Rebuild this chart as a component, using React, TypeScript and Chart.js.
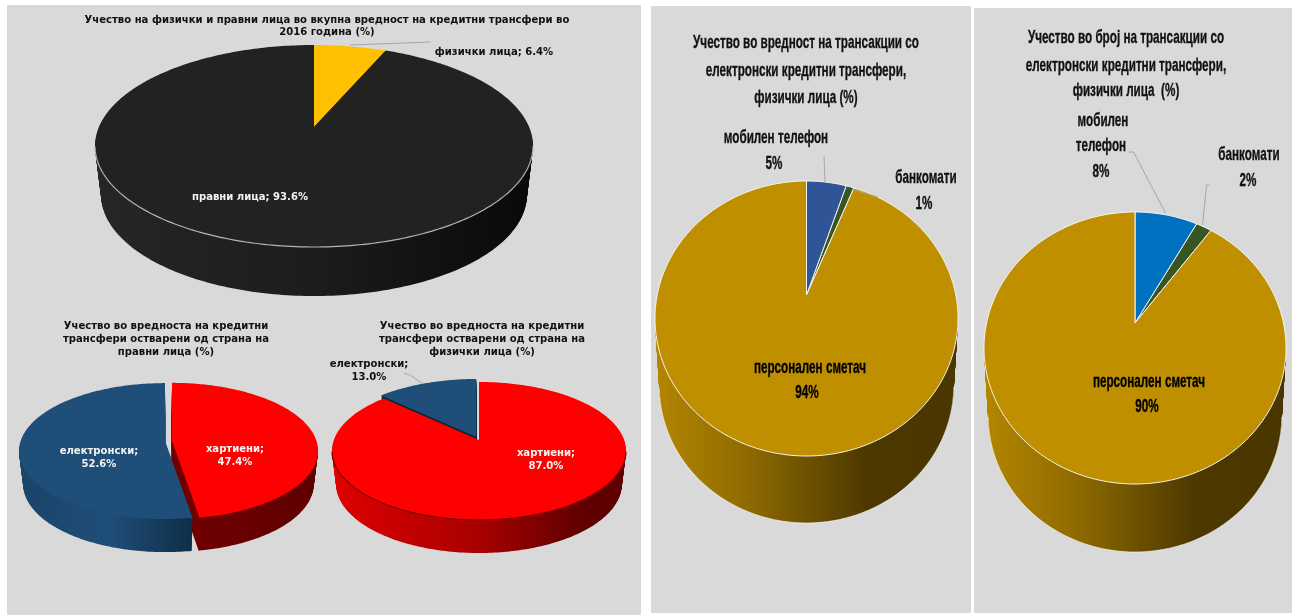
import React, { useEffect, useRef } from "react";
import { Chart, registerables } from "chart.js";

Chart.register(...registerables);

// Figures per chart
const partyCategories = ["физички лица", "правни лица"];
const partyValues = [6.4, 93.6];
const mediumCategories = ["хартиени", "електронски"];
const legalMediumValues = [47.4, 52.6];
const naturalMediumValues = [87.0, 13.0];
const channelCategories = ["мобилен телефон", "банкомати", "персонален сметач"];
const channelValueShares = [5, 1, 94];
const channelCountShares = [8, 2, 90];

// Chart headings
const partyTitle = [
  "Учество на физички и правни лица во вкупна вредност на кредитни трансфери во",
  "2016 година (%)",
];
const legalTitle = ["Учество во вредноста на кредитни", "трансфери остварени од страна на", "правни лица (%)"];
const naturalTitle = ["Учество во вредноста на кредитни", "трансфери остварени од страна на", "физички лица (%)"];
const valueTitle = ["Учество во вредност на трансакции со", "електронски кредитни трансфери,", "физички лица (%)"];
const countTitle = ["Учество во број на трансакции со", "електронски кредитни трансфери,", "физички лица  (%)"];

type Stops = [number, string][];
type PieSpec = {
  values: number[];
  colors: string[];
  walls: Stops[];
  cx: number;
  cy: number;
  rx: number;
  ry: number;
  tilt: number; // perspective shift of the hub towards the back edge
  depth: number;
  pull: number[]; // exploded distance per slice
  sliceStroke?: string;
  rimStroke?: string;
  wallEdge?: string;
  leaders: number[][][];
};

const GOLD_WALL: Stops = [[0, "#b48600"], [0.3, "#8f6b00"], [0.7, "#4d3800"], [1, "#4a3600"]];
const WALL_TAPER = 0.028; // the far end of the cylinder is a little narrower

const padOf = (s: PieSpec) => Math.max(12, Math.ceil(s.ry + s.depth - s.rx + 8));

const pies: PieSpec[] = [
  {
    values: partyValues,
    colors: ["#FFC000", "#222222"],
    walls: [
      [[0, "#222"], [1, "#222"]],
      [[0, "#262626"], [0.5, "#1c1c1c"], [1, "#090909"]],
    ],
    cx: 314, cy: 146, rx: 219, ry: 101, tilt: -0.188, depth: 49,
    pull: [0, 0],
    rimStroke: "#b4b4b4",
    leaders: [[[350, 45], [431, 42]]],
  },
  {
    values: legalMediumValues,
    colors: ["#FF0000", "#1F4E79"],
    walls: [
      [[0, "#7a0000"], [0.7, "#6c0000"], [1, "#5e0000"]],
      [[0, "#1a4468"], [0.3, "#1f4e79"], [0.6, "#0e2c44"], [1, "#0e2c44"]],
    ],
    cx: 168, cy: 451, rx: 146, ry: 68, tilt: -0.15, depth: 33,
    pull: [4, 3],
    leaders: [],
  },
  {
    values: naturalMediumValues,
    colors: ["#FF0000", "#1F4E79"],
    walls: [
      [[0, "#e00000"], [0.5, "#a80000"], [0.85, "#600000"], [1, "#5f0000"]],
      [[0, "#0c2638"], [1, "#0c2638"]],
    ],
    cx: 479, cy: 451, rx: 147, ry: 69, tilt: -0.16, depth: 33,
    pull: [0, 7],
    rimStroke: "#7a0000",
    leaders: [[[404, 373], [410, 375], [423, 384]]],
  },
  {
    values: channelValueShares,
    colors: ["#2F5597", "#375623", "#BF8F00"],
    walls: [GOLD_WALL, GOLD_WALL, GOLD_WALL],
    cx: 806.5, cy: 318.5, rx: 151.5, ry: 137.5, tilt: -0.171, depth: 67,
    pull: [0, 0, 0],
    sliceStroke: "#f4f4f4",
    wallEdge: "rgba(255,255,255,0.6)",
    leaders: [
      [[824, 156], [825, 182]],
      [[852, 189], [878, 197]],
    ],
  },
  {
    values: channelCountShares,
    colors: ["#0070C0", "#375623", "#BF8F00"],
    walls: [GOLD_WALL, GOLD_WALL, GOLD_WALL],
    cx: 1134.5, cy: 348, rx: 151, ry: 136, tilt: -0.184, depth: 68,
    pull: [0, 0, 0],
    sliceStroke: "#f4f4f4",
    wallEdge: "rgba(255,255,255,0.6)",
    leaders: [
      [[1128, 152], [1133, 152], [1165, 213]],
      [[1209, 185], [1206, 185], [1202, 225]],
    ],
  },
];

// Paints the arcs of a pie as tilted, extruded slices
function extrudedPie(spec: PieSpec) {
  return {
    id: "extrudedPie",
    beforeDatasetsDraw(chart: any) {
      const ctx = chart.ctx;
      const arcs = chart.getDatasetMeta(0).data;
      const { rx, ry, tilt: t, depth } = spec;
      const root = Math.sqrt(1 - t * t);
      const order: number[] = arcs.map((_: any, i: number) => i).sort((a: number, b: number) => spec.values[a] - spec.values[b]);

      const slices = order.map((i) => {
        const { startAngle, endAngle, x, y } = arcs[i].getProps(["startAngle", "endAngle", "x", "y"], true);
        const mid = (startAngle + endAngle) / 2;
        const ox = x + spec.pull[i] * Math.cos(mid);
        const oy = y + (spec.pull[i] * Math.sin(mid) * ry) / rx;
        const steps = Math.max(2, Math.ceil(((endAngle - startAngle) * 180) / Math.PI));
        const rim: number[][] = [];
        for (let s = 0; s <= steps; s++) {
          const a = startAngle + ((endAngle - startAngle) * s) / steps;
          const sx = Math.cos(a);
          const sy = Math.sin(a);
          const d = 1 + t * sy;
          rim.push([(rx * sx * root) / d, (ry * (sy + t)) / d]);
        }
        const place = (p: number[], dy: number) => {
          const k = 1 - (WALL_TAPER * dy) / depth;
          return [x + (ox - x + p[0]) * k, oy + p[1] + dy];
        };
        const trace = (dy: number) => {
          const hub = place([0, ry * t], dy);
          ctx.beginPath();
          ctx.moveTo(hub[0], hub[1]);
          rim.forEach((p) => {
            const q = place(p, dy);
            ctx.lineTo(q[0], q[1]);
          });
          ctx.closePath();
        };
        // only the part of the rim that lies below the widest line of the ellipse
        const strokeFront = (dy: number, color: string, width: number) => {
          ctx.beginPath();
          let open = false;
          rim.forEach((p) => {
            if (p[1] >= 0) {
              const q = place(p, dy);
              if (open) ctx.lineTo(q[0], q[1]);
              else ctx.moveTo(q[0], q[1]);
              open = true;
            } else open = false;
          });
          ctx.strokeStyle = color;
          ctx.lineWidth = width;
          ctx.stroke();
        };
        return { i, x, trace, strokeFront };
      });

      // side walls go down first, the lids on top of them
      slices.forEach(({ i, x, trace, strokeFront }) => {
        const wall = ctx.createLinearGradient(x - rx, 0, x + rx, 0);
        spec.walls[i].forEach(([o, c]) => wall.addColorStop(o, c));
        ctx.fillStyle = wall;
        for (let dy = depth; dy >= 1; dy--) {
          trace(dy);
          ctx.fill();
        }
        if (spec.wallEdge) strokeFront(depth, spec.wallEdge, 1);
      });
      slices.forEach(({ i, trace, strokeFront }) => {
        trace(0);
        ctx.fillStyle = arcs[i].options.backgroundColor;
        ctx.fill();
        if (spec.sliceStroke) {
          ctx.strokeStyle = spec.sliceStroke;
          ctx.lineWidth = 1;
          ctx.lineJoin = "round";
          ctx.stroke();
        }
        if (spec.rimStroke) strokeFront(0, spec.rimStroke, 1.2);
      });
      return false;
    },
    afterDraw(chart: any) {
      const ctx = chart.ctx;
      const pad = padOf(spec);
      const left = spec.cx - spec.rx - pad;
      const top = spec.cy - spec.rx - pad;
      ctx.save();
      ctx.strokeStyle = "#a6a6a6";
      ctx.lineWidth = 1;
      spec.leaders.forEach((line) => {
        ctx.beginPath();
        line.forEach(([px, py], k) => (k ? ctx.lineTo(px - left, py - top) : ctx.moveTo(px - left, py - top)));
        ctx.stroke();
      });
      ctx.restore();
    },
  };
}

function Pie({ spec }: { spec: PieSpec }) {
  const ref = useRef<HTMLCanvasElement>(null);
  const pad = padOf(spec);
  useEffect(() => {
    const chart = new Chart(ref.current as HTMLCanvasElement, {
      type: "pie",
      data: {
        labels: spec.values.map((v) => `${v}%`),
        datasets: [{ data: spec.values, backgroundColor: spec.colors, borderWidth: 0 }],
      },
      options: {
        responsive: false,
        animation: false,
        layout: { padding: pad },
        plugins: { legend: { display: false }, tooltip: { enabled: false } },
      },
      plugins: [extrudedPie(spec)],
    } as any);
    return () => chart.destroy();
  }, [spec]);
  const side = 2 * spec.rx + 2 * pad;
  return (
    <canvas
      ref={ref}
      width={side}
      height={side}
      style={{ position: "absolute", left: spec.cx - spec.rx - pad, top: spec.cy - spec.rx - pad, width: side, height: side }}
    />
  );
}

const WIDE = { font: "bold 11px 'DejaVu Sans'", sx: 0.915, stroke: "0px" };
const TALL = { font: "bold 19px 'Liberation Sans'", sx: 0.615, stroke: "0.35px" };

function Line({ x, y, text, kind, color = "#111" }: { x: number; y: number; text: string; kind: typeof WIDE; color?: string }) {
  return (
    <div
      style={{
        font: kind.font,
        position: "absolute",
        left: x - 300,
        width: 600,
        top: y - 15,
        height: 30,
        lineHeight: "30px",
        textAlign: "center",
        whiteSpace: "pre",
        color,
        WebkitTextStroke: `${kind.stroke} ${color}`,
        transform: `scaleX(${kind.sx})`,
      }}
    >
      {text}
    </div>
  );
}

const pct1 = (v: number) => `${v.toFixed(1)}%`;

export default function App() {
  const panel = (left: number, top: number, width: number, height: number) => (
    <div style={{ position: "absolute", left, top, width, height, background: "#d9d9d9" }} />
  );
  const lines: [number, number, string, typeof WIDE, string?][] = [
    [327, 20, partyTitle[0], WIDE],
    [327, 32, partyTitle[1], WIDE],
    [494, 52, `${partyCategories[0]}; ${pct1(partyValues[0])}`, WIDE],
    [250, 197, `${partyCategories[1]}; ${pct1(partyValues[1])}`, WIDE, "#f2f2f2"],

    [166, 326, legalTitle[0], WIDE],
    [166, 339, legalTitle[1], WIDE],
    [166, 352, legalTitle[2], WIDE],
    [99, 451, `${mediumCategories[1]};`, WIDE, "#f2f2f2"],
    [99, 464, pct1(legalMediumValues[1]), WIDE, "#f2f2f2"],
    [235, 449, `${mediumCategories[0]};`, WIDE, "#f2f2f2"],
    [235, 462, pct1(legalMediumValues[0]), WIDE, "#f2f2f2"],

    [482, 326, naturalTitle[0], WIDE],
    [482, 339, naturalTitle[1], WIDE],
    [482, 352, naturalTitle[2], WIDE],
    [369, 364, `${mediumCategories[1]};`, WIDE],
    [369, 377, pct1(naturalMediumValues[1]), WIDE],
    [546, 453, `${mediumCategories[0]};`, WIDE, "#f2f2f2"],
    [546, 466, pct1(naturalMediumValues[0]), WIDE, "#f2f2f2"],

    [805.5, 42, valueTitle[0], TALL],
    [805.5, 70, valueTitle[1], TALL],
    [805.5, 97, valueTitle[2], TALL],
    [776, 137, channelCategories[0], TALL],
    [774, 163, `${channelValueShares[0]}%`, TALL],
    [926, 177, channelCategories[1], TALL],
    [924, 203, `${channelValueShares[1]}%`, TALL],
    [809.5, 367, channelCategories[2], TALL, "#000"],
    [807, 392, `${channelValueShares[2]}%`, TALL, "#000"],

    [1126, 37, countTitle[0], TALL],
    [1126, 65, countTitle[1], TALL],
    [1126, 90, countTitle[2], TALL],
    [1103, 120, channelCategories[0].split(" ")[0], TALL],
    [1101, 145, channelCategories[0].split(" ")[1], TALL],
    [1101, 171, `${channelCountShares[0]}%`, TALL],
    [1249, 154, channelCategories[1], TALL],
    [1248, 180, `${channelCountShares[1]}%`, TALL],
    [1149, 381, channelCategories[2], TALL, "#000"],
    [1147, 406, `${channelCountShares[2]}%`, TALL, "#000"],
  ];
  return (
    <div style={{ position: "fixed", left: 0, top: 0, width: 1292, height: 615, background: "#fff", overflow: "hidden" }}>
      {panel(7, 5, 634, 610)}
      {panel(651, 6, 320, 607)}
      {panel(974, 8, 318, 605)}
      {pies.map((spec, i) => (
        <Pie key={i} spec={spec} />
      ))}
      {lines.map(([x, y, text, kind, color], i) => (
        <Line key={i} x={x} y={y} text={text} kind={kind} color={color} />
      ))}
    </div>
  );
}
